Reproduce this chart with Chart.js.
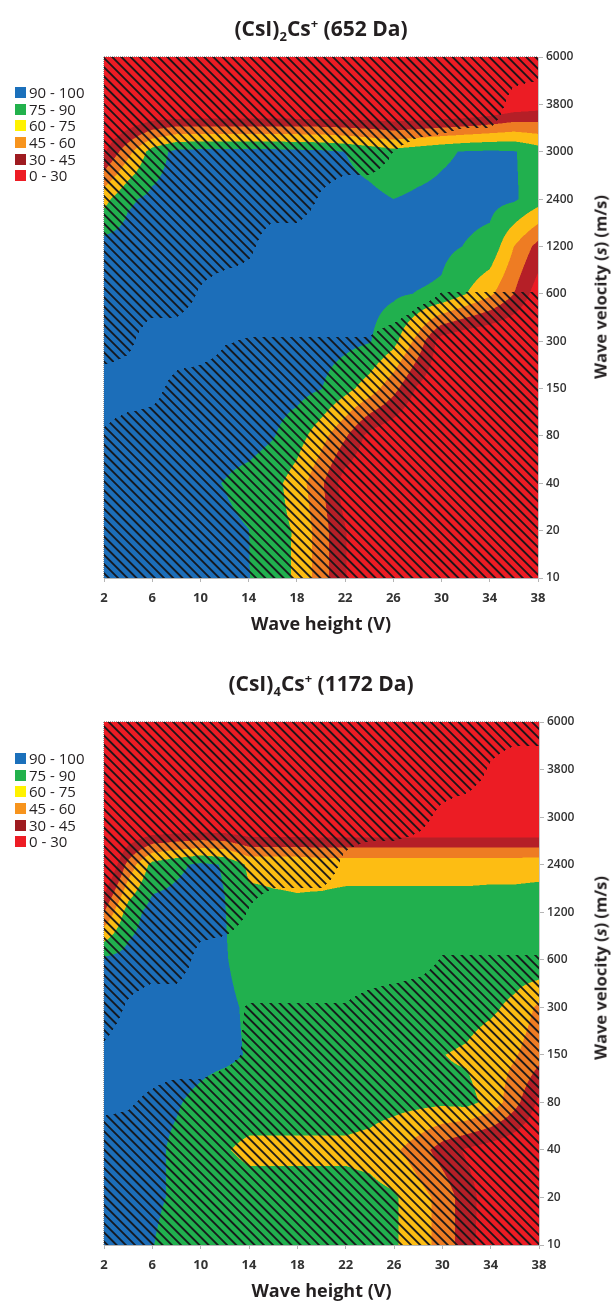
<!DOCTYPE html>
<html>
<head>
<meta charset="utf-8">
<script src="https://cdn.jsdelivr.net/npm/chart.js@4.4.1/dist/chart.umd.min.js"></script>
<style>
  html, body { margin: 0; padding: 0; background: #fff; }
  #page { position: relative; width: 614px; height: 1303px; overflow: hidden;
          font-family: 'Open Sans', sans-serif; color: #231f20; }
  canvas { position: absolute; left: 0; }
  .ttl { position: absolute; left: 104px; width: 434px; text-align: center;
         font-weight: 700; font-size: 21px; line-height: 22px; white-space: nowrap; }
  .ttl sub { font-size: 13px; line-height: 0; vertical-align: -5px; }
  .ttl sup { font-size: 13px; line-height: 0; vertical-align: 8px; }
  .lgd { position: absolute; left: 15px; font-size: 15px; line-height: 16.7px; color: #231f20; }
  .lgd .row { height: 16.7px; display: flex; align-items: center; white-space: nowrap; }
  .lgd .sw { display: inline-block; width: 11px; height: 11px; margin-right: 3px; }
  .yt { position: absolute; transform: translate(-50%, -50%) rotate(-90deg);
        font-weight: 700; font-size: 16.5px; white-space: nowrap; }
</style>
</head>
<body>
<div id="page">
  <canvas id="chartTop" width="614" height="650" style="top:0"></canvas>
  <canvas id="chartBottom" width="614" height="653" style="top:650px"></canvas>

  <div class="ttl" style="top:17px">(CsI)<sub>2</sub>Cs<sup>+</sup> (652 Da)</div>
  <div class="ttl" style="top:672px">(CsI)<sub>4</sub>Cs<sup>+</sup> (1172 Da)</div>

  <div class="lgd" id="legendTop" style="top:84px"></div>
  <div class="lgd" id="legendBottom" style="top:750px"></div>

  <div class="yt" style="left:600px;top:287px">Wave velocity (<i>s</i>) (m/s)</div>
  <div class="yt" style="left:600px;top:968px">Wave velocity (<i>s</i>) (m/s)</div>
</div>

<script>
// ---- axes ----
const waveHeights   = [2, 4, 6, 8, 10, 12, 14, 16, 18, 20, 22, 24, 26, 28, 30, 32, 34, 36, 38];
const heightTicks   = [2, 6, 10, 14, 18, 22, 26, 30, 34, 38];
const waveVelocities = ['10', '20', '40', '80', '150', '300', '600', '1200', '2400', '3000', '3800', '6000'];

// ---- bands (% intensity) ----
const bandLabels = ['90 - 100', '75 - 90', '60 - 75', '45 - 60', '30 - 45', '0 - 30'];
const bandMins   = [90, 75, 60, 45, 30, 0];
const bandFill   = ['#1c6eb9', '#21b04e', '#fdbd13', '#ee7c23', '#b51f27', '#ec1c24'];
const swatchFill = ['#1b70bb', '#22b14c', '#fff200', '#f7941d', '#9e1b20', '#ed1c24'];

// ---- (CsI)2Cs+ : one row per wave velocity, one value per wave height ----
const csi2_6000 = [8, 8, 8, 8, 8, 8, 8, 8, 8, 8, 8, 8, 8, 8, 8, 8, 8, 10, 12];
const csi2_3800 = [2, 2, 2, 2, 2, 2, 2, 2, 2, 2, 2, 2, 2, 2, 3, 5, 10, 18, 22];
const csi2_3000 = [28, 55, 82, 94, 95, 95, 95, 95, 94, 93, 90, 85, 80, 84, 88, 91, 92, 91, 83];
const csi2_2400 = [70, 88, 93, 95, 96, 96, 96, 96, 96, 95, 94, 93, 90, 92, 93, 94, 94, 92, 82];
const csi2_1200 = [96, 96, 96, 96, 96, 96, 96, 96, 96, 96, 96, 96, 96, 96, 93, 89.5, 86, 60, 40];
const csi2_600  = [96, 96, 96, 96, 96, 96, 96, 96, 96, 96, 96, 94, 92, 89.5, 88, 75.5, 63, 45, 22];
const csi2_300  = [96, 96, 96, 96, 96, 96, 96, 96, 96, 96, 94, 91, 80, 55, 22, 15, 12, 10, 10];
const csi2_150  = [96, 96, 96, 96, 96, 96, 96, 96, 95, 90.5, 80, 68, 50, 28, 18, 12, 12, 12, 12];
const csi2_80   = [96, 96, 96, 96, 96, 96, 96, 91, 82, 66, 47, 25, 18, 12, 12, 12, 12, 12, 12];
const csi2_40   = [96, 96, 96, 96, 93, 89.5, 85, 80, 68, 48, 22, 15, 12, 12, 12, 12, 12, 12, 12];
const csi2_20   = [96, 96, 96, 96, 96, 93, 90.2, 80, 73.5, 52, 31, 15, 12, 12, 12, 12, 12, 12, 12];
const csi2_10   = [96, 96, 96, 96, 96, 94, 90.5, 81, 73, 52, 31, 15, 12, 12, 12, 12, 12, 12, 12];

// hatched zones (>= 0.5 is hatched)
const csi2Hatch_6000 = [1, 1, 1, 1, 1, 1, 1, 1, 1, 1, 1, 1, 1, 1, 1, 1, 1, 1, 1];
const csi2Hatch_3800 = [1, 1, 1, 1, 1, 1, 1, 1, 1, 1, 1, 1, 1, 1, 1, 1, 1, 0.2, 0];
const csi2Hatch_3000 = [1, 1, 1, 1, 1, 1, 1, 1, 1, 1, 1, 1, 0.5, 0.3, 0.2, 0, 0, 0, 0];
const csi2Hatch_2400 = [1, 1, 1, 1, 1, 1, 1, 1, 1, 0.4, 0, 0, 0, 0, 0, 0, 0, 0, 0];
const csi2Hatch_1200 = [1, 1, 1, 1, 1, 1, 0.7, 0, 0, 0, 0, 0, 0, 0, 0, 0, 0, 0, 0];
const csi2Hatch_600  = [1, 1, 1, 1, 0.4, 0, 0, 0, 0, 0, 0, 0, 0, 0.3, 0.52, 0.52, 0.52, 0.52, 0.52];
const csi2Hatch_300  = [1, 0.7, 0, 0, 0, 0.45, 0.55, 0.55, 0.55, 0.55, 0.55, 0.55, 0.8, 1, 1, 1, 1, 1, 1];
const csi2Hatch_150  = [0, 0, 0.2, 0.8, 1, 1, 1, 1, 1, 1, 1, 1, 1, 1, 1, 1, 1, 1, 1];
const csi2Hatch_80   = [0.6, 1, 1, 1, 1, 1, 1, 1, 1, 1, 1, 1, 1, 1, 1, 1, 1, 1, 1];
const csi2Hatch_40   = [1, 1, 1, 1, 1, 1, 1, 1, 1, 1, 1, 1, 1, 1, 1, 1, 1, 1, 1];
const csi2Hatch_20   = [1, 1, 1, 1, 1, 1, 1, 1, 1, 1, 1, 1, 1, 1, 1, 1, 1, 1, 1];
const csi2Hatch_10   = [1, 1, 1, 1, 1, 1, 1, 1, 1, 1, 1, 1, 1, 1, 1, 1, 1, 1, 1];

// ---- (CsI)4Cs+ ----
const csi4_6000 = [8, 8, 8, 8, 8, 8, 8, 8, 8, 8, 8, 8, 8, 8, 8, 8, 8, 8, 8];
const csi4_3800 = [5, 5, 5, 5, 5, 5, 5, 5, 5, 5, 5, 5, 5, 5, 5, 5, 5, 5, 5];
const csi4_3000 = [0, 0, 0, 0, 0, 0, 0, 0, 0, 0, 0, 0, 0, 0, 0, 0, 0, 0, 0];
const csi4_2400 = [5, 50, 80, 87, 93, 89, 72, 72, 72, 70, 70, 70, 70, 70, 70, 70, 70, 70, 70.5];
const csi4_1200 = [45, 82, 96, 96, 96, 90.5, 80, 78, 77, 79, 81, 81, 81, 81, 81, 81, 82, 82, 83];
const csi4_600  = [93, 95, 96, 96, 95, 91, 84, 83, 83, 83, 83, 83, 83, 83, 83, 84, 84, 85, 88];
const csi4_300  = [96, 96, 96, 96, 95, 93, 88, 85, 84, 84, 84, 84, 84, 84, 83, 81, 78, 71, 57];
const csi4_150  = [96, 96, 96, 95, 94, 93, 89, 85, 84, 84, 84, 83, 82, 80, 75.3, 73, 66, 61.5, 50];
const csi4_80   = [96, 95, 93, 91, 87, 82, 82, 82, 82, 82, 82, 81, 80, 79, 78, 80, 70, 50, 27];
const csi4_40   = [96, 95, 92.5, 88, 82, 76, 72, 72, 72, 72, 72, 70, 63, 52, 38, 28, 22, 18, 15];
const csi4_20   = [96, 95, 92.5, 88, 84, 82, 81, 81, 81, 81, 81, 80, 77, 66, 55, 36, 22, 15, 12];
const csi4_10   = [96, 95, 90.5, 84, 83, 82, 82, 82, 82, 82, 82, 81, 77, 66, 55, 36, 20, 15, 12];

const csi4Hatch_6000 = [1, 1, 1, 1, 1, 1, 1, 1, 1, 1, 1, 1, 1, 1, 1, 1, 1, 1, 1];
const csi4Hatch_3800 = [1, 1, 1, 1, 1, 1, 1, 1, 1, 1, 1, 1, 1, 1, 1, 1, 0.4, 0, 0];
const csi4Hatch_3000 = [1, 1, 1, 1, 1, 1, 1, 1, 1, 1, 1, 1, 1, 0.75, 0.3, 0, 0, 0, 0];
const csi4Hatch_2400 = [1, 1, 1, 1, 1, 1, 1, 1, 1, 1, 0.3, 0, 0, 0, 0, 0, 0, 0, 0];
const csi4Hatch_1200 = [1, 1, 1, 1, 1, 1, 0.45, 0, 0, 0, 0, 0, 0, 0, 0, 0, 0, 0, 0];
const csi4Hatch_600  = [1, 1, 1, 1, 0.2, 0, 0, 0, 0, 0, 0, 0, 0, 0.2, 0.55, 0.55, 0.55, 0.55, 0.55];
const csi4Hatch_300  = [1, 0.4, 0, 0, 0, 0.3, 0.55, 0.55, 0.55, 0.55, 0.55, 0.8, 1, 1, 1, 1, 1, 1, 1];
const csi4Hatch_150  = [0.3, 0, 0, 0, 0, 0.3, 0.6, 1, 1, 1, 1, 1, 1, 1, 1, 1, 1, 1, 1];
const csi4Hatch_80   = [0.3, 0.4, 0.7, 1, 1, 1, 1, 1, 1, 1, 1, 1, 1, 1, 1, 1, 1, 1, 1];
const csi4Hatch_40   = [1, 1, 1, 1, 1, 1, 1, 1, 1, 1, 1, 1, 1, 1, 1, 1, 1, 1, 1];
const csi4Hatch_20   = [1, 1, 1, 1, 1, 1, 1, 1, 1, 1, 1, 1, 1, 1, 1, 1, 1, 1, 1];
const csi4Hatch_10   = [1, 1, 1, 1, 1, 1, 1, 1, 1, 1, 1, 1, 1, 1, 1, 1, 1, 1, 1];

// rows ordered from the lowest velocity (bottom of the plot) upwards
const csi2Grid  = [csi2_10, csi2_20, csi2_40, csi2_80, csi2_150, csi2_300, csi2_600, csi2_1200, csi2_2400, csi2_3000, csi2_3800, csi2_6000];
const csi2Hatch = [csi2Hatch_10, csi2Hatch_20, csi2Hatch_40, csi2Hatch_80, csi2Hatch_150, csi2Hatch_300, csi2Hatch_600, csi2Hatch_1200, csi2Hatch_2400, csi2Hatch_3000, csi2Hatch_3800, csi2Hatch_6000];
const csi4Grid  = [csi4_10, csi4_20, csi4_40, csi4_80, csi4_150, csi4_300, csi4_600, csi4_1200, csi4_2400, csi4_3000, csi4_3800, csi4_6000];
const csi4Hatch = [csi4Hatch_10, csi4Hatch_20, csi4Hatch_40, csi4Hatch_80, csi4Hatch_150, csi4Hatch_300, csi4Hatch_600, csi4Hatch_1200, csi4Hatch_2400, csi4Hatch_3000, csi4Hatch_3800, csi4Hatch_6000];

// ---- helpers ----
const FONT = "'Open Sans', sans-serif";
Chart.defaults.font.family = FONT;

function hexRgb(h) {
  const n = parseInt(h.slice(1), 16);
  return [(n >> 16) & 255, (n >> 8) & 255, n & 255];
}
const bandRgb = bandFill.map(hexRgb);

function bandIndex(z) {
  for (let k = 0; k < bandMins.length; k++) if (z >= bandMins[k]) return k;
  return bandMins.length - 1;
}

// fractional position of a value inside a sorted list of grid coordinates
function fracIndex(arr, v) {
  const n = arr.length;
  if (v <= arr[0]) return 0;
  if (v >= arr[n - 1]) return n - 1;
  for (let i = 0; i < n - 1; i++) {
    if (v <= arr[i + 1]) return i + (v - arr[i]) / (arr[i + 1] - arr[i]);
  }
  return n - 1;
}

function bilinear(g, r, c) {
  const rows = g.length, cols = g[0].length;
  const r0 = Math.max(0, Math.min(Math.floor(r), rows - 2));
  const c0 = Math.max(0, Math.min(Math.floor(c), cols - 2));
  const fr = Math.min(1, Math.max(0, r - r0)), fc = Math.min(1, Math.max(0, c - c0));
  const a = g[r0][c0], b = g[r0][c0 + 1], d = g[r0 + 1][c0], e = g[r0 + 1][c0 + 1];
  return (a * (1 - fc) + b * fc) * (1 - fr) + (d * (1 - fc) + e * fc) * fr;
}

// Filled contour bands + diagonal hatching, evaluated per pixel through the chart scales
const contourBands = {
  id: 'contourBands',
  beforeDatasetsDraw(chart, args, opts) {
    const { ctx, chartArea: area, scales: { x, y } } = chart;
    const left = Math.round(area.left), top = Math.round(area.top);
    const w = Math.round(area.right) - left, h = Math.round(area.bottom) - top;
    const img = ctx.createImageData(w, h);
    const px = img.data;
    const SS = [0.25, 0.75];

    const colF = new Float32Array(w * 2), colC = new Float32Array(w);
    for (let i = 0; i < w; i++) {
      for (let k = 0; k < 2; k++) colF[i * 2 + k] = fracIndex(waveHeights, x.getValueForPixel(left + i + SS[k]));
      colC[i] = fracIndex(waveHeights, x.getValueForPixel(left + i + 0.5));
    }
    const rowF = new Float32Array(h * 2), rowC = new Float32Array(h);
    for (let j = 0; j < h; j++) {
      for (let k = 0; k < 2; k++) rowF[j * 2 + k] = y.getValueForPixel(top + j + SS[k]);
      rowC[j] = y.getValueForPixel(top + j + 0.5);
    }

    const period = opts.hatchPeriod, half = opts.hatchWidth / 2, ink = opts.hatchAlpha;
    for (let j = 0; j < h; j++) {
      for (let i = 0; i < w; i++) {
        let R = 0, G = 0, B = 0;
        for (let sy = 0; sy < 2; sy++) {
          const r = rowF[j * 2 + sy];
          for (let sx = 0; sx < 2; sx++) {
            const c = bandRgb[bandIndex(bilinear(opts.grid, r, colF[i * 2 + sx]))];
            R += c[0]; G += c[1]; B += c[2];
          }
        }
        R /= 4; G /= 4; B /= 4;
        if (bilinear(opts.hatch, rowC[j], colC[i]) >= 0.5) {
          let d = ((left + i) - (top + j)) % period;
          if (d < 0) d += period;
          const dist = Math.min(d, period - d) / Math.SQRT2;
          const cov = Math.max(0, Math.min(1, half + 0.5 - dist)) * ink;
          R = R * (1 - cov) + 20 * cov; G = G * (1 - cov) + 20 * cov; B = B * (1 - cov) + 24 * cov;
        }
        const p = (j * w + i) * 4;
        px[p] = R; px[p + 1] = G; px[p + 2] = B; px[p + 3] = 255;
      }
    }
    ctx.putImageData(img, left, top);
  },
  afterDraw(chart) {
    const { ctx, chartArea: a } = chart;
    ctx.save();
    ctx.strokeStyle = '#a3a3a3';
    ctx.lineWidth = 1;
    ctx.setLineDash([1, 1]);
    ctx.beginPath();
    ctx.moveTo(a.left, Math.round(a.top) - 0.5);
    ctx.lineTo(a.right, Math.round(a.top) - 0.5);
    ctx.moveTo(Math.round(a.left) - 0.5, a.top);
    ctx.lineTo(Math.round(a.left) - 0.5, a.bottom);
    ctx.stroke();
    ctx.restore();
  }
};

function makeChart(id, grid, hatch, padding) {
  return new Chart(document.getElementById(id), {
    type: 'scatter',
    data: { datasets: [] },
    options: {
      responsive: false,
      animation: false,
      devicePixelRatio: 1,
      layout: { padding },
      events: [],
      plugins: {
        legend: { display: false },
        tooltip: { enabled: false },
        contourBands: { grid, hatch, hatchPeriod: 9.2, hatchWidth: 1.9, hatchAlpha: 0.95 }
      },
      scales: {
        x: {
          type: 'linear',
          min: waveHeights[0],
          max: waveHeights[waveHeights.length - 1],
          afterBuildTicks: s => { s.ticks = heightTicks.map(v => ({ value: v })); },
          afterFit: s => { s.height = 58; },
          grid: { drawOnChartArea: false, drawTicks: true, tickLength: 4, color: '#b5b5b5' },
          border: { color: '#b5b5b5' },
          ticks: { font: { size: 13, weight: 'bold' }, color: '#333', padding: 8, maxRotation: 0 },
          title: { display: true, text: 'Wave height (V)', font: { size: 18, weight: 'bold' }, color: '#231f20', padding: 0 }
        },
        y: {
          type: 'linear',
          position: 'right',
          min: 0,
          max: waveVelocities.length - 1,
          afterBuildTicks: s => { s.ticks = waveVelocities.map((v, i) => ({ value: i })); },
          afterFit: s => { s.width = 44; },
          grid: { drawOnChartArea: false, drawTicks: true, tickLength: 5, color: '#b5b5b5' },
          border: { color: '#c8c8c8' },
          ticks: { callback: (v, i) => waveVelocities[i], font: { size: 12, weight: '600' }, color: '#333', padding: 3 }
        }
      }
    },
    plugins: [contourBands]
  });
}

makeChart('chartTop', csi2Grid, csi2Hatch, { left: 104, right: 32, top: 57, bottom: 14 });
makeChart('chartBottom', csi4Grid, csi4Hatch, { left: 104, right: 31, top: 72, bottom: 0 });

// legends
function fillLegend(id) {
  const box = document.getElementById(id);
  bandLabels.forEach((lab, k) => {
    const row = document.createElement('div');
    row.className = 'row';
    const sw = document.createElement('span');
    sw.className = 'sw';
    sw.style.background = swatchFill[k];
    row.appendChild(sw);
    row.appendChild(document.createTextNode(lab));
    box.appendChild(row);
  });
}
fillLegend('legendTop');
fillLegend('legendBottom');
</script>
</body>
</html>
